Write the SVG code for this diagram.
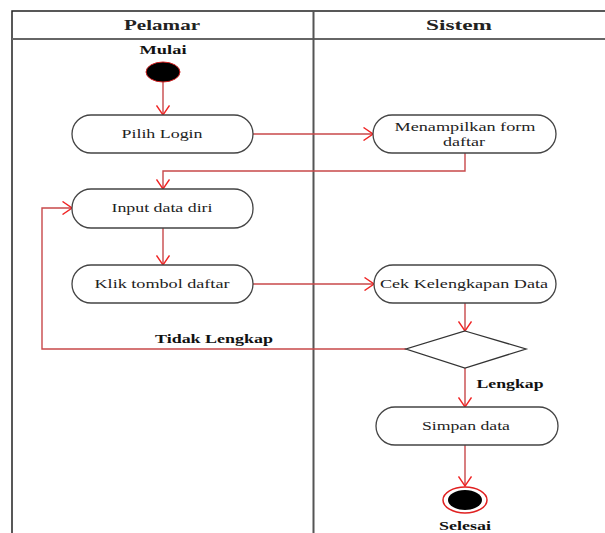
<svg xmlns="http://www.w3.org/2000/svg" width="605" height="533" viewBox="0 0 605 533">
<defs>
<style>
.frame{fill:none;stroke:#222;stroke-width:1.5}
.hdr{fill:none;stroke:#666;stroke-width:2}
.div{fill:none;stroke:#555;stroke-width:2}
.box{fill:#fff;stroke:#444;stroke-width:1.3}
.conn{fill:none;stroke:#c8484a;stroke-width:1.4}
.t{font-family:"Liberation Serif","Times New Roman",serif;font-size:13px;fill:#222;text-anchor:middle}
.b{font-family:"Liberation Serif","Times New Roman",serif;font-size:13px;font-weight:bold;fill:#111;text-anchor:middle}
.h{font-family:"Liberation Serif","Times New Roman",serif;font-size:15px;font-weight:bold;fill:#222;text-anchor:middle}
</style>
<marker id="arr" viewBox="0 0 11 14" refX="10" refY="7" markerWidth="11" markerHeight="14" markerUnits="userSpaceOnUse" orient="auto">
<path d="M0.5,0.5 L10,7 L0.5,13.5" fill="none" stroke="#f02424" stroke-width="1.4"/>
</marker>
</defs>
<rect width="605" height="533" fill="#fff"/>
<g id="lanes">
<path class="frame" d="M12,534 V11 H606"/>
<path class="hdr" d="M12,39 H606"/>
<path class="div" d="M313.5,11 V534"/>
<text class="h" x="162" y="30" textLength="76" lengthAdjust="spacingAndGlyphs">Pelamar</text>
<text class="h" x="459" y="30" textLength="66" lengthAdjust="spacingAndGlyphs">Sistem</text>
</g>
<g id="connectors">
<path class="conn" d="M163,82 V115" marker-end="url(#arr)"/>
<path class="conn" d="M253,134 H373" marker-end="url(#arr)"/>
<path class="conn" d="M465,153 V171 H163 V189" marker-end="url(#arr)"/>
<path class="conn" d="M163,228 V265" marker-end="url(#arr)"/>
<path class="conn" d="M253,284 H374" marker-end="url(#arr)"/>
<path class="conn" d="M465,303 V331" marker-end="url(#arr)"/>
<path class="conn" d="M406,349 H42 V208 H72" marker-end="url(#arr)"/>
<path class="conn" d="M465,368 V407" marker-end="url(#arr)"/>
<path class="conn" d="M465,445 V486" marker-end="url(#arr)"/>
<text class="b" x="214" y="343" textLength="118" lengthAdjust="spacingAndGlyphs">Tidak Lengkap</text>
<text class="b" x="510" y="388" textLength="67" lengthAdjust="spacingAndGlyphs">Lengkap</text>
</g>
<g id="start">
<text class="b" x="163" y="54" textLength="47" lengthAdjust="spacingAndGlyphs">Mulai</text>
<ellipse cx="163" cy="72" rx="17" ry="10" fill="#000" stroke="#d02020" stroke-width="1"/>
</g>
<g id="pilih-login">
<rect class="box" x="72" y="115" width="181" height="38" rx="19"/>
<text class="t" x="162" y="138" textLength="81" lengthAdjust="spacingAndGlyphs">Pilih Login</text>
</g>
<g id="menampilkan-form">
<rect class="box" x="373" y="115" width="183" height="38" rx="19"/>
<text class="t" x="465" y="131" textLength="141" lengthAdjust="spacingAndGlyphs">Menampilkan form</text>
<text class="t" x="464" y="146" textLength="42" lengthAdjust="spacingAndGlyphs">daftar</text>
</g>
<g id="input-data">
<rect class="box" x="72" y="189" width="181" height="39" rx="19"/>
<text class="t" x="162" y="212" textLength="101" lengthAdjust="spacingAndGlyphs">Input data diri</text>
</g>
<g id="klik-tombol">
<rect class="box" x="72" y="265" width="181" height="38" rx="19"/>
<text class="t" x="162" y="288" textLength="135" lengthAdjust="spacingAndGlyphs">Klik tombol daftar</text>
</g>
<g id="cek-kelengkapan">
<rect class="box" x="374" y="265" width="182" height="38" rx="19"/>
<text class="t" x="464" y="288" textLength="168" lengthAdjust="spacingAndGlyphs">Cek Kelengkapan Data</text>
</g>
<g id="decision">
<polygon points="465,331 526,349 465,368 406,349" fill="#fff" stroke="#333" stroke-width="1.3"/>
</g>
<g id="simpan-data">
<rect class="box" x="376" y="407" width="182" height="38" rx="19"/>
<text class="t" x="466" y="430" textLength="88" lengthAdjust="spacingAndGlyphs">Simpan data</text>
</g>
<g id="end">
<ellipse cx="465" cy="500" rx="22" ry="13" fill="#fff" stroke="#e02020" stroke-width="1.5"/>
<ellipse cx="465" cy="500" rx="17" ry="10" fill="#000"/>
<text class="b" x="465" y="530" textLength="52" lengthAdjust="spacingAndGlyphs">Selesai</text>
</g>
</svg>
